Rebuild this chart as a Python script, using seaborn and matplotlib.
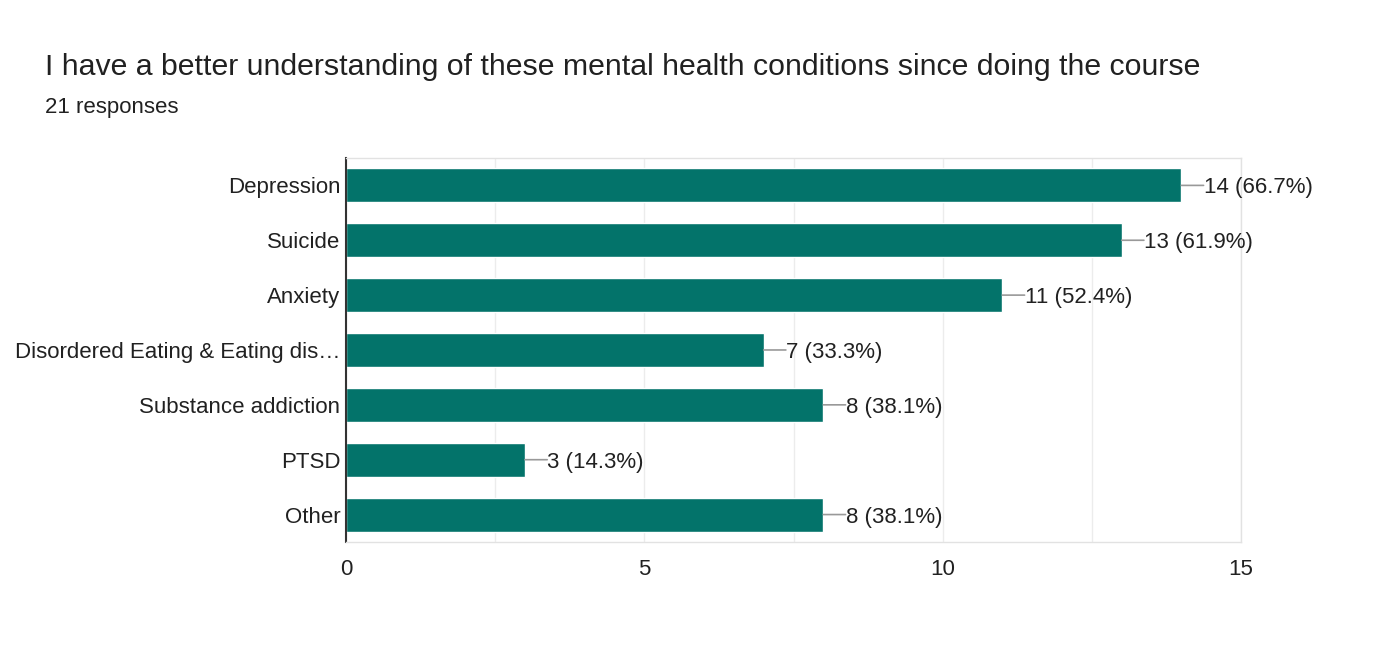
import matplotlib
matplotlib.use("Agg")
import matplotlib.pyplot as plt
import seaborn as sns
import pandas as pd
import numpy as np

categories = ["Depression", "Suicide", "Anxiety", "Disordered Eating & Eating dis\u2026",
              "Substance addiction", "PTSD", "Other"]
counts = [14, 13, 11, 7, 8, 3, 8]
percents = [66.7, 61.9, 52.4, 33.3, 38.1, 14.3, 38.1]
x_ticks = [0, 5, 10, 15]

title = "I have a better understanding of these mental health conditions since doing the course"
subtitle = "21 responses"

sns.set_theme(style="white")
plt.rcParams['font.family'] = ['Liberation Sans', 'DejaVu Sans']

df = pd.DataFrame({"category": categories, "count": counts})

fig = plt.figure(figsize=(13.8, 6.56), dpi=100)
ax = fig.add_axes([0.2507, 0.1738, 0.6486, 0.5854])

sns.barplot(data=df, y="category", x="count", orient="h", color="#03736a",
            saturation=1, width=0.62, ax=ax, order=categories)

ax.set_xlim(0, 15)
ax.set_xticks(x_ticks)
ax.set_xticks(np.arange(0, 15.01, 2.5), minor=True)
ax.grid(True, axis="x", which="both", color="#ececec", linewidth=1)
ax.set_axisbelow(True)
ax.set_xlabel("")
ax.set_ylabel("")
ax.tick_params(axis="x", which="both", length=0, labelsize=16, pad=12, colors="#212121")
ax.tick_params(axis="y", length=0, labelsize=16, pad=4, colors="#212121")

for name, sp in ax.spines.items():
    sp.set_color("#e2e2e2")
    sp.set_linewidth(1)
ax.spines["left"].set_color("#333333")
ax.spines["left"].set_linewidth(1.5)

for i, (c, p) in enumerate(zip(counts, percents)):
    ax.annotate("", xy=(c, i), xytext=(16, 0), textcoords="offset points",
                arrowprops=dict(arrowstyle="-", color="#999999", lw=1.2,
                                shrinkA=0, shrinkB=0))
    ax.annotate(f"{c} ({p}%)", xy=(c, i), xytext=(16, 0), textcoords="offset points",
                va="center_baseline", ha="left", fontsize=16, color="#212121")

fig.text(45 / 1380, 1 - 67 / 656, title, fontsize=21.8, color="#212121", va="center", ha="left")
fig.text(45 / 1380, 1 - 108 / 656, subtitle, fontsize=16, color="#212121", va="center", ha="left")

fig.savefig("out.png", dpi=100)
